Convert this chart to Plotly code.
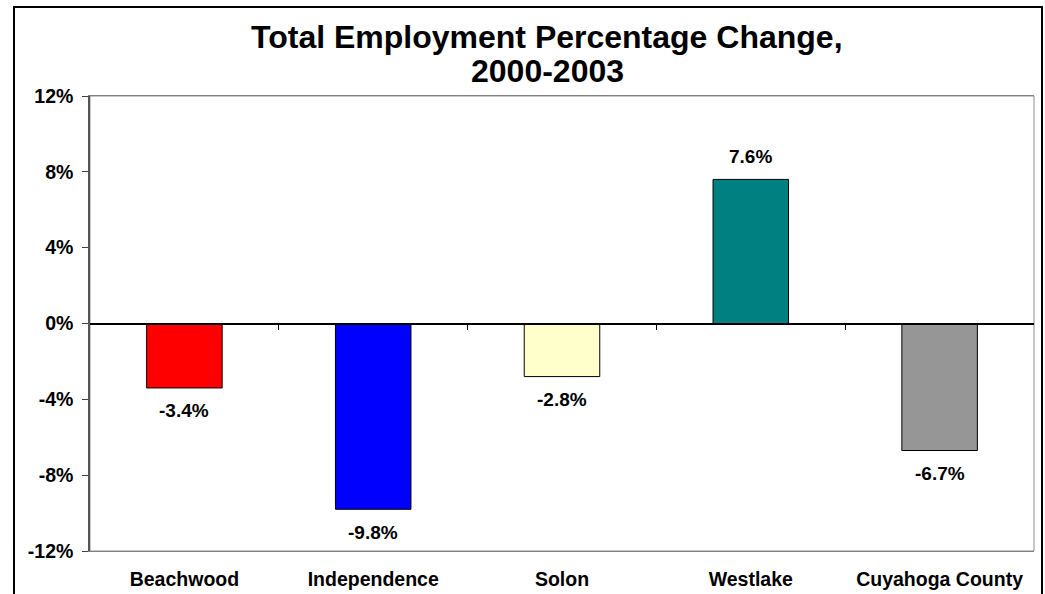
import plotly.graph_objects as go

places = ["Beachwood", "Independence", "Solon", "Westlake", "Cuyahoga County"]
change = [-3.4, -9.8, -2.8, 7.6, -6.7]
bar_colors = ["#FF0000", "#0000FF", "#FFFFCC", "#008080", "#969696"]
y_ticks = [-12, -8, -4, 0, 4, 8, 12]

W, H = 1045, 594
L, R, T, B = 90, 11, 96, 43
pw, ph = W - L - R, H - T - B
FONT = "Arial, Liberation Sans"


def px_x(x):
    return (x - L) / pw


def px_y(y):
    return (H - B - y) / ph


fig = go.Figure()
fig.add_trace(go.Bar(
    x=list(range(len(places))), y=change,
    marker=dict(color=bar_colors, line=dict(color="black", width=1)),
    width=0.4,
    hoverinfo="skip",
))
# invisible trace on the overlay axis so the zero-line ticks get drawn
fig.add_trace(go.Scatter(x=[0], y=[0], xaxis="x2", mode="markers",
                         marker=dict(opacity=0), hoverinfo="skip", showlegend=False))

labels = []
for i, v in enumerate(change):
    labels.append(dict(
        x=i, y=v, xref="x", yref="y", text=f"{v:.1f}%",
        showarrow=False, yanchor="middle", yshift=23 if v > 0 else -23,
        font=dict(family=FONT, size=19, color="black", weight="bold"),
    ))

title_lines = ["Total Employment Percentage Change,", "2000-2003"]
for line, yc in zip(title_lines, [37, 71]):
    labels.append(dict(
        text=line, xref="paper", yref="paper",
        x=px_x(547), y=px_y(yc), xanchor="center", yanchor="middle",
        showarrow=False,
        font=dict(family=FONT, size=32, weight="bold", color="black"),
    ))

fig.update_layout(
    width=W, height=H,
    autosize=False,
    margin=dict(l=L, r=R, t=T, b=B),
    paper_bgcolor="white", plot_bgcolor="white",
    showlegend=False,
    font=dict(family=FONT, color="black"),
    xaxis=dict(
        range=[-0.5, 4.5],
        tickvals=list(range(len(places))), ticktext=places,
        tickfont=dict(size=19.5, weight="bold"),
        showline=True, linecolor="#808080", linewidth=1, mirror=True,
        showgrid=False, zeroline=False, ticks="", ticklabelstandoff=11,
        automargin=False,
    ),
    xaxis2=dict(
        overlaying="x", anchor="free", position=0.5,
        range=[-0.5, 4.5], tickvals=[0.5, 1.5, 2.5, 3.5],
        showticklabels=False, ticks="outside", ticklen=6, tickcolor="black",
        showline=True, linecolor="black", linewidth=1.5,
        showgrid=False, zeroline=False,
    ),
    yaxis=dict(
        range=[-12, 12],
        tickvals=y_ticks, ticktext=[f"{v}%" for v in y_ticks],
        tickfont=dict(size=19.5, weight="bold"),
        ticks="outside", ticklen=6, tickcolor="#404040",
        showline=True, linecolor="#555555", linewidth=1.5,
        showgrid=False, zeroline=False, ticklabelstandoff=5,
        automargin=False,
    ),
    annotations=labels,
    shapes=[
        dict(type="rect", xref="paper", yref="paper", x0=0, x1=1, y0=0, y1=1,
             line=dict(color="#909090", width=1), fillcolor="rgba(0,0,0,0)", layer="below"),
        dict(type="rect", xref="paper", yref="paper",
             x0=px_x(14), x1=px_x(1042), y0=px_y(620), y1=px_y(7),
             line=dict(color="black", width=2), fillcolor="rgba(0,0,0,0)"),
    ],
)

fig.write_html(
    "out.html",
    config={"displayModeBar": False, "responsive": False},
    post_script="document.body.style.margin='0px';document.body.style.overflow='hidden';",
)
